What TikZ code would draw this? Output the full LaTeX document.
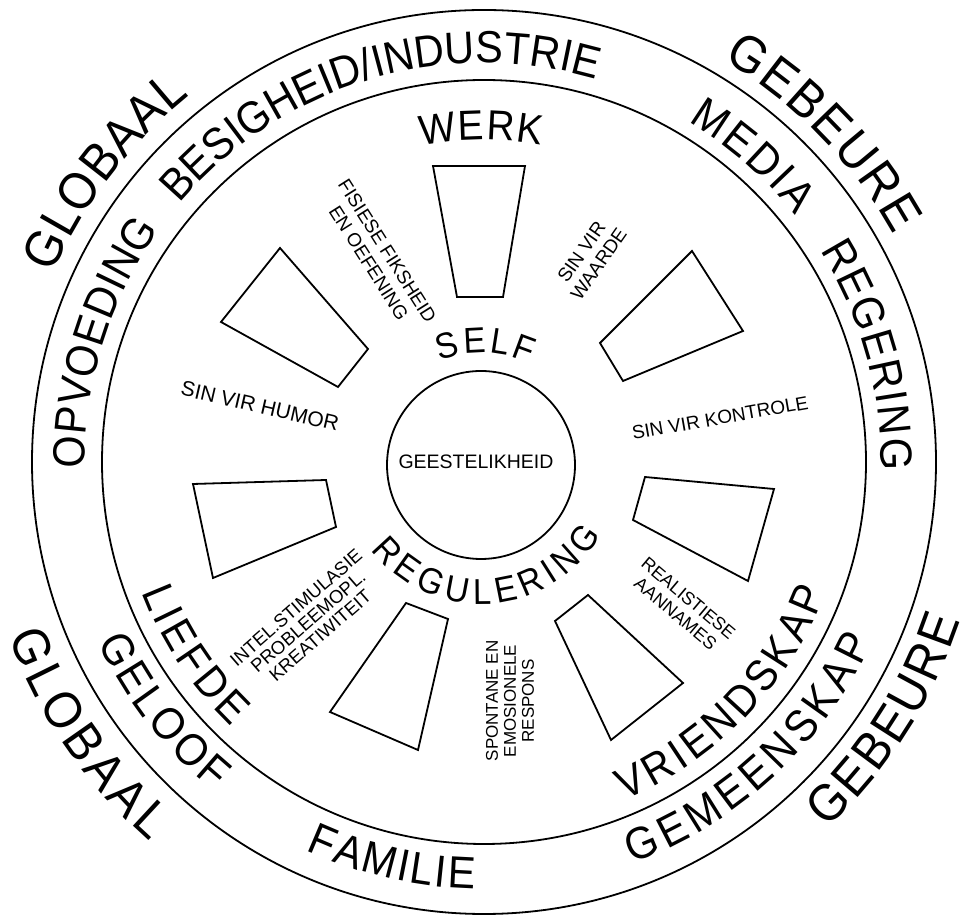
\documentclass[tikz,border=0pt]{standalone}
\usepackage{fontspec}
\setmainfont{Liberation Sans}
\usetikzlibrary{calc}
\makeatletter
% advance widths (em) of Liberation Sans capitals
\def\arcsetw#1#2{\expandafter\def\csname arcw@#1\endcsname{#2}}
\arcsetw{A}{0.667}\arcsetw{B}{0.667}\arcsetw{D}{0.722}\arcsetw{E}{0.667}
\arcsetw{F}{0.611}\arcsetw{G}{0.778}\arcsetw{H}{0.722}\arcsetw{I}{0.278}
\arcsetw{K}{0.667}\arcsetw{L}{0.556}\arcsetw{M}{0.833}\arcsetw{N}{0.722}
\arcsetw{O}{0.778}\arcsetw{P}{0.667}\arcsetw{R}{0.722}\arcsetw{S}{0.667}
\arcsetw{T}{0.611}\arcsetw{U}{0.722}\arcsetw{V}{0.667}\arcsetw{W}{0.944}
\arcsetw{/}{0.278}
\def\arcxs{0.92}
\def\arc@end{\arc@end}
\def\arc@measure#1{%
  \ifx#1\arc@end\else
    \edef\arc@em{\csname arcw@#1\endcsname}%
    \pgfmathsetmacro\arc@tw{\arc@tw+\arc@em*\arc@size*\arcxs+\arc@spn}%
    \expandafter\arc@measure
  \fi}
\def\arc@place#1{%
  \ifx#1\arc@end\else
    \edef\arc@em{\csname arcw@#1\endcsname}%
    \pgfmathsetmacro\arc@lw{\arc@em*\arc@size*\arcxs}%
    \pgfmathsetmacro\arc@ang{\arc@mid-(\arc@dir)*(\arc@x+0.5*\arc@lw-0.5*\arc@tw)/\arc@r*57.29578}%
    \pgfmathsetmacro\arc@rot{\arc@ang-(\arc@dir)*90}%
    \node[letter,rotate=\arc@rot,xscale=\arcxs,font=\arc@font,text height=\arc@th pt,text depth=0pt] at ($(\arc@c)+(\arc@ang:\arc@r pt)$) {#1};%
    \pgfmathsetmacro\arc@x{\arc@x+\arc@lw+\arc@spn}%
    \expandafter\arc@place
  \fi}
% #1 centre, #2 baseline radius, #3 middle angle, #4 direction (1 clockwise, -1 anticlockwise),
% #5 font size, #6 extra letter spacing, #7 word
\newcommand\arcword[7]{%
  \def\arc@c{#1}\def\arc@r{#2}\def\arc@mid{#3}\def\arc@dir{#4}%
  \def\arc@size{#5}\def\arc@font{\fontsize{#5}{#5}\selectfont}\def\arc@spn{#6}%
  \pgfmathsetmacro\arc@th{#5*0.72}%
  \def\arc@tw{0}%
  \arc@measure#7\arc@end
  \pgfmathsetmacro\arc@tw{\arc@tw-\arc@spn}%
  \def\arc@x{0}%
  \arc@place#7\arc@end}
\makeatother
\begin{document}
\begin{tikzpicture}[x=1pt,y=1pt,
  letter/.style={inner sep=0pt,outer sep=0pt,anchor=base},
  ring/.style={line width=1.8pt},
  panel/.style={line width=1.8pt,line join=miter},
  lbl/.style={inner sep=0pt,align=center}]
\useasboundingbox (0,0) rectangle (969,915);
\coordinate (C) at (484,453);
\coordinate (Cc) at (481,450);
% rings
\draw[ring] (C) circle[radius=452pt];
\draw[ring] (C) circle[radius=382pt];
\draw[ring] (Cc) circle[radius=94pt];
% panels
\draw[panel] (433,749) -- (525,749) -- (503,618) -- (457,618) -- cycle;
\draw[panel] (692,664) -- (743,584) -- (623,534) -- (600,572) -- cycle;
\draw[panel] (645,438) -- (774,426) -- (748,334) -- (633,395) -- cycle;
\draw[panel] (588,320) -- (683,232) -- (611,175) -- (555,294) -- cycle;
\draw[panel] (406,312) -- (448,296) -- (418,165) -- (330,203) -- cycle;
\draw[panel] (193,431) -- (326,435) -- (336,388) -- (213,337) -- cycle;
\draw[panel] (280,667) -- (368,566) -- (338,528) -- (221,593) -- cycle;
% curved words: band
\arcword{C}{399}{106.7}{1}{45}{0}{BESIGHEID/INDUSTRIE}
\arcword{C}{397}{48.7}{1}{45}{3}{MEDIA}
\arcword{C}{397}{15.5}{1}{45}{1.5}{REGERING}
\arcword{C}{399}{162.65}{1}{45}{0.5}{OPVOEDING}
\arcword{C}{428}{-47.25}{-1}{45}{5}{GEMEENSKAP}
\arcword{C}{427}{-102.9}{-1}{45}{2.3}{FAMILIE}
\arcword{C}{426}{217.8}{-1}{45}{3.6}{GELOOF}
% outside
\arcword{C}{470}{142.6}{1}{52}{0.6}{GLOBAAL}
\arcword{C}{468}{44.1}{1}{52}{2.2}{GEBEURE}
\arcword{C}{502}{-32.65}{-1}{52}{2.6}{GEBEURE}
\arcword{C}{506}{214.4}{-1}{52}{4.75}{GLOBAAL}
% inside
\arcword{C}{322}{90.5}{1}{42}{1.5}{WERK}
\arcword{C}{366}{-44.15}{-1}{44}{4.1}{VRIENDSKAP}
\arcword{C}{366}{213.6}{-1}{44}{4.3}{LIEFDE}
\arcword{Cc}{112}{88}{1}{36}{3}{SELF}
\arcword{Cc}{139}{273.6}{-1}{36}{5.8}{REGULERING}
% labels
\node[lbl,font=\fontsize{19.5}{20}\selectfont] (gees) at (476,453) {GEESTELIKHEID};
\node[lbl,font=\fontsize{19}{22}\selectfont,rotate=-57.6] (fis) at (378,658) {FISIESE FIKSHEID\\EN OEFENING};
\node[lbl,font=\fontsize{19}{21}\selectfont,rotate=55] (waar) at (590,657) {SIN VIR\\WAARDE};
\node[lbl,font=\fontsize{21}{22}\selectfont,rotate=-13] (hum) at (260,509) {SIN VIR HUMOR};
\node[lbl,font=\fontsize{19}{22}\selectfont,rotate=10] (kon) at (720,497) {SIN VIR KONTROLE};
\node[lbl,font=\fontsize{18}{20}\selectfont,rotate=-40] (real) at (682,309) {REALISTIESE\\AANNAMES};
\node[lbl,font=\fontsize{17}{18}\selectfont,rotate=90] (spon) at (510,214) {SPONTANE EN\\EMOSIONELE\\RESPONS};
\node[lbl,font=\fontsize{18.5}{18.5}\selectfont,rotate=41] (intel) at (308,293.5) {INTEL.STIMULASIE\\PROBLEEMOPL.\\KREATIWITEIT};
\end{tikzpicture}
\end{document}
